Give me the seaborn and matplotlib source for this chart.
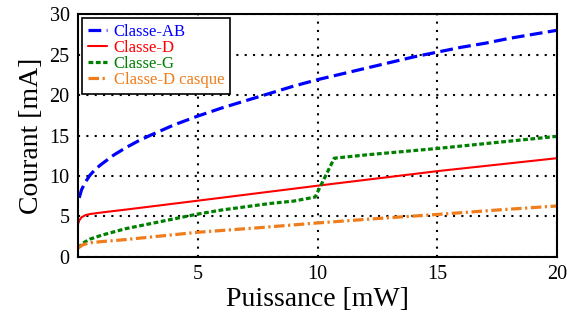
import numpy as np
import pandas as pd
import matplotlib
matplotlib.use('Agg')
import matplotlib.pyplot as plt
import seaborn as sns

# values (Puissance [mW] -> Courant [mA])
ab_x = [0.05, 0.15, 0.3, 0.5, 0.75, 1, 1.5, 2, 2.5, 3, 4, 5, 6, 7, 8, 9, 10,
        11, 12, 13, 14, 15, 16, 17, 18, 19, 20]
ab_y = [7.3, 8.3, 9.2, 10.1, 10.9, 11.5, 12.6, 13.5, 14.3, 15.0, 16.3, 17.4,
        18.4, 19.3, 20.2, 21.1, 21.9, 22.6, 23.3, 24.0, 24.7, 25.3, 25.9,
        26.4, 27.0, 27.5, 28.0]

d_x = [0, 0.05, 0.15, 0.3, 0.5, 1, 2, 5, 10, 15, 20]
d_y = [4.0, 4.5, 4.9, 5.15, 5.3, 5.5, 5.85, 6.95, 8.8, 10.6, 12.2]

g_x = [0, 0.2, 0.5, 1, 1.5, 2, 3, 4, 5, 6, 7, 8, 9, 9.9, 10.7, 12, 15, 18, 20]
g_y = [1.1, 1.7, 2.2, 2.7, 3.1, 3.5, 4.1, 4.7, 5.3, 5.8, 6.2, 6.6, 6.9, 7.4,
       12.2, 12.6, 13.4, 14.3, 14.9]

dc_x = [0, 0.2, 0.5, 1, 2, 3, 5, 7.5, 10, 12.5, 15, 17.5, 20]
dc_y = [1.1, 1.5, 1.75, 1.9, 2.15, 2.45, 3.05, 3.6, 4.2, 4.75, 5.25, 5.8, 6.3]

x_ticks = [5, 10, 15, 20]
y_ticks = [0, 5, 10, 15, 20, 25, 30]

sns.set_style('white')
plt.rcParams['font.family'] = ['Liberation Serif', 'DejaVu Serif']
plt.rcParams['text.color'] = 'black'
plt.rcParams['axes.labelcolor'] = 'black'
plt.rcParams['xtick.color'] = 'black'
plt.rcParams['ytick.color'] = 'black'

fig = plt.figure(figsize=(5.67, 3.2), dpi=100)
ax = fig.add_axes([0.1375, 0.197, 0.845, 0.759])

sns.lineplot(x=ab_x, y=ab_y, ax=ax, color='#0000ff', lw=2.3,
             linestyle=(0, (4, 1.7)), label='Classe-AB')
sns.lineplot(x=d_x, y=d_y, ax=ax, color='#ff0000', lw=1.5,
             linestyle='-', label='Classe-D')
sns.lineplot(x=g_x, y=g_y, ax=ax, color='#008000', lw=2.3,
             linestyle=(0, (1.5, 0.8)), label='Classe-G')
sns.lineplot(x=dc_x, y=dc_y, ax=ax, color='#f07d1c', lw=2.3,
             linestyle=(0, (3.3, 1.1, 0.7, 1.1)), label='Classe-D casque')

ax.set_xlim(0, 20)
ax.set_ylim(0, 30)
ax.set_xticks(x_ticks)
ax.set_yticks(y_ticks)
ax.grid(True, color='black', linestyle=(0, (1, 3)), linewidth=1.5)
ax.tick_params(labelsize=14.5, direction='in', length=4, width=1,
               color='black', pad=6)
for s in ax.spines.values():
    s.set_color('black')
    s.set_linewidth(1.5)
ax.set_xlabel('Puissance [mW]', fontsize=20, labelpad=2)
ax.set_ylabel('Courant [mA]', fontsize=20, labelpad=4)

leg = ax.legend(loc='upper left', fontsize=12, frameon=True, fancybox=False,
                edgecolor='black', framealpha=1, labelspacing=0.0,
                handlelength=1.15, handletextpad=0.4, borderpad=0.35,
                borderaxespad=0.25)
leg.get_frame().set_linewidth(1.2)
for txt, line in zip(leg.get_texts(), leg.get_lines()):
    txt.set_color(line.get_color())

fig.savefig('out.png', dpi=100)
